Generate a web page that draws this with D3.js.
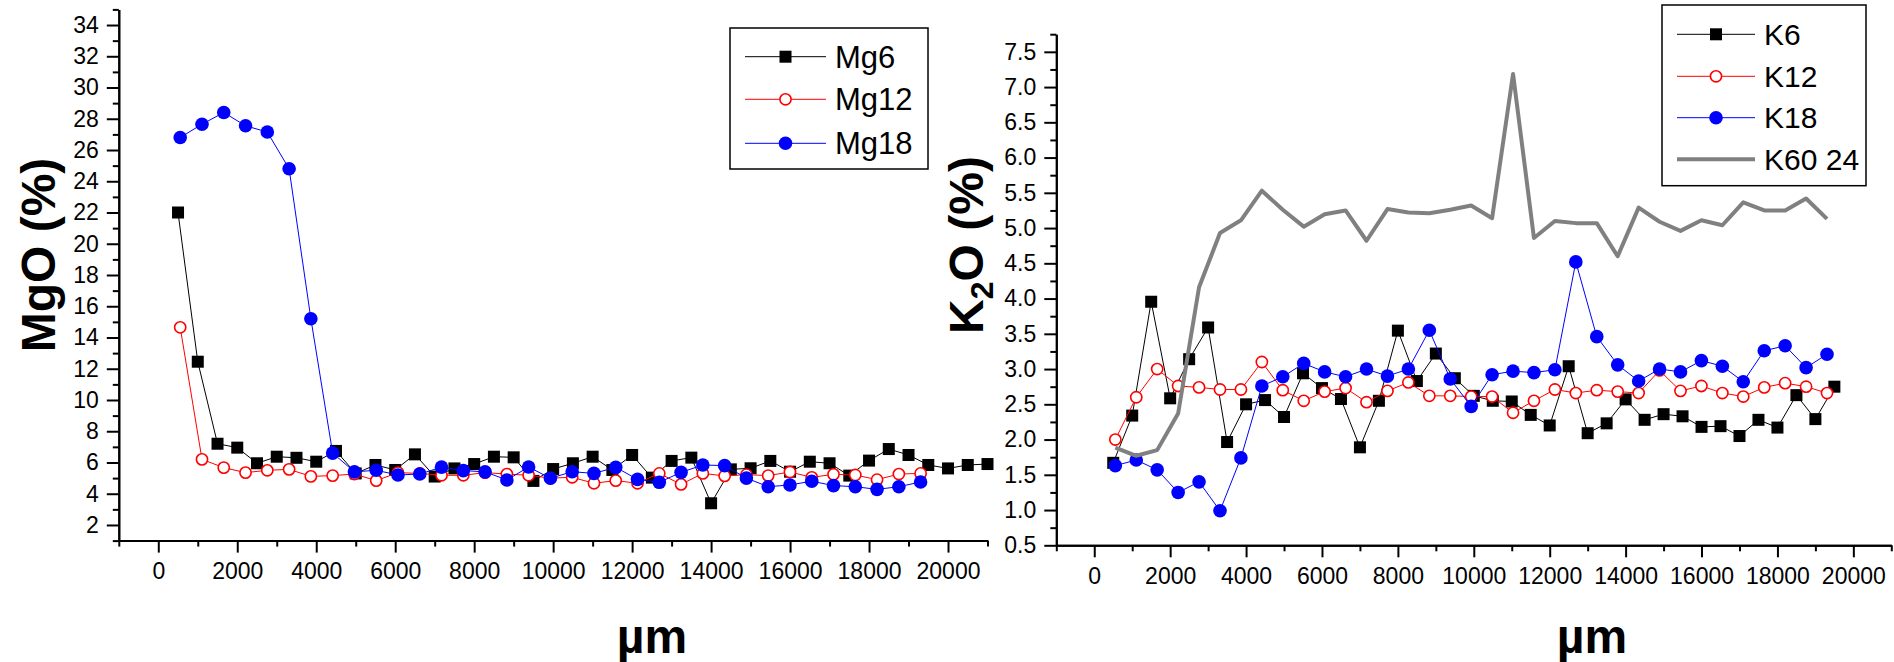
<!DOCTYPE html>
<html>
<head>
<meta charset="utf-8">
<script src="https://cdn.jsdelivr.net/npm/d3@7"></script>
<style>
html,body{margin:0;padding:0;background:#fff;}
svg{display:block;}
</style>
</head>
<body>
<svg id="chart" width="1894" height="662"></svg>
<script>
// ---------- DATA ----------
const xsMg6 = [500,1000,1500,2000,2500,3000,3500,4000,4500,5000,5500,6000,6500,7000,7500,8000,8500,9000,9500,10000,10500,11000,11500,12000,12500,13000,13500,14000,14500,15000,15500,16000,16500,17000,17500,18000,18500,19000,19500,20000,20500,21000];
const mg6 = [22.0,12.45,7.2,6.95,5.95,6.37,6.3,6.05,6.74,5.3,5.84,5.52,6.52,5.1,5.62,5.9,6.37,6.33,4.82,5.58,5.95,6.37,5.52,6.48,5.03,6.1,6.31,3.39,5.56,5.63,6.1,5.41,6.05,5.95,5.16,6.12,6.86,6.48,5.84,5.62,5.84,5.9];
const xs35 = [555,1107,1658,2210,2761,3313,3864,4416,4967,5519,6070,6622,7173,7725,8276,8828,9379,9931,10482,11034,11585,12137,12688,13240,13791,14343,14894,15446,15997,16549,17100,17652,18203,18755,19306];
const mg12 = [14.65,6.2,5.67,5.35,5.5,5.56,5.11,5.16,5.26,4.84,5.35,5.3,5.18,5.18,5.35,5.26,5.18,5.0,5.05,4.67,4.84,4.67,5.3,4.6,5.3,5.14,5.22,5.16,5.39,5.05,5.24,5.2,4.9,5.26,5.3];
const mg18 = [26.8,27.65,28.4,27.55,27.15,24.8,15.2,6.6,5.4,5.5,5.2,5.26,5.7,5.48,5.4,4.88,5.71,4.99,5.41,5.3,5.69,4.92,4.73,5.37,5.84,5.8,5.0,4.45,4.56,4.8,4.52,4.45,4.28,4.45,4.75];

const xsK6 = [500,1000,1500,2000,2500,3000,3500,4000,4500,5000,5500,6000,6500,7000,7500,8000,8500,9000,9500,10000,10500,11000,11500,12000,12500,13000,13500,14000,14500,15000,15500,16000,16500,17000,17500,18000,18500,19000,19500];
const k6 = [1.67,2.34,3.955,2.585,3.14,3.59,1.965,2.5,2.56,2.32,2.94,2.73,2.575,1.89,2.55,3.545,2.83,3.22,2.87,2.62,2.55,2.54,2.35,2.2,3.04,2.09,2.23,2.57,2.28,2.36,2.33,2.18,2.19,2.05,2.28,2.17,2.63,2.29,2.75];
const k12 = [2.0,2.6,3.0,2.76,2.74,2.71,2.71,3.1,2.7,2.55,2.68,2.73,2.53,2.69,2.81,2.62,2.62,2.61,2.61,2.38,2.55,2.71,2.66,2.7,2.68,2.66,2.98,2.69,2.76,2.66,2.61,2.74,2.8,2.75,2.66];
const k18 = [1.63,1.71,1.57,1.25,1.4,0.99,1.74,2.76,2.89,3.08,2.96,2.89,3.0,2.9,3.0,3.55,2.86,2.47,2.92,2.97,2.95,2.99,4.52,3.46,3.06,2.83,3.0,2.96,3.12,3.04,2.82,3.26,3.33,3.02,3.21];
const k6024 = [1.885,1.77,1.85,2.37,4.16,4.93,5.11,5.53,5.26,5.02,5.195,5.25,4.82,5.27,5.22,5.21,5.26,5.32,5.14,7.185,4.86,5.1,5.07,5.07,4.6,5.29,5.09,4.96,5.11,5.04,5.365,5.25,5.25,5.42,5.13];

const xMajorTicks = [0,2000,4000,6000,8000,10000,12000,14000,16000,18000,20000];
const xMinorTicks = [-1000,1000,3000,5000,7000,9000,11000,13000,15000,17000,19000,21000];
const mgMajorTicks = [2,4,6,8,10,12,14,16,18,20,22,24,26,28,30,32,34];
const mgMinorTicks = [1,3,5,7,9,11,13,15,17,19,21,23,25,27,29,31,33,35];
const kMajorTicks = [0.5,1.0,1.5,2.0,2.5,3.0,3.5,4.0,4.5,5.0,5.5,6.0,6.5,7.0,7.5];
const kMinorTicks = [0.75,1.25,1.75,2.25,2.75,3.25,3.75,4.25,4.75,5.25,5.75,6.25,6.75,7.25,7.75];

const mgLegend = ["Mg6","Mg12","Mg18"];
const kLegend = ["K6","K12","K18","K60 24"];

// ---------- DRAW ----------
const FONT = "'Liberation Sans', Arial, Helvetica, sans-serif";
const svg = d3.select("#chart");

function styleAxis(g){
  g.select(".domain").attr("stroke","#000").attr("stroke-width",2);
  g.selectAll(".tick line").attr("stroke","#000").attr("stroke-width",2);
  g.selectAll(".tick text").attr("font-family",FONT).attr("font-size",23).attr("fill","#000");
}

function panel(opts){
  const x = d3.scaleLinear().domain([-1000,21000]).range(opts.xr);
  const y = d3.scaleLinear().domain(opts.yd).range(opts.yr);
  const g = svg.append("g");

  // minor ticks
  g.append("g").attr("transform",`translate(0,${opts.yr[0]})`)
    .call(d3.axisBottom(x).tickValues(xMinorTicks).tickSize(6).tickSizeOuter(0).tickFormat(""))
    .call(styleAxis);
  g.append("g").attr("transform",`translate(${opts.xr[0]},0)`)
    .call(d3.axisLeft(y).tickValues(opts.yMinor).tickSize(6).tickSizeOuter(0).tickFormat(""))
    .call(styleAxis);
  // major ticks
  g.append("g").attr("transform",`translate(0,${opts.yr[0]})`)
    .call(d3.axisBottom(x).tickValues(xMajorTicks).tickSize(12).tickSizeOuter(0).tickPadding(10).tickFormat(d3.format("d")))
    .call(styleAxis);
  g.append("g").attr("transform",`translate(${opts.xr[0]},0)`)
    .call(d3.axisLeft(y).tickValues(opts.yMajor).tickSize(12).tickSizeOuter(0).tickPadding(8).tickFormat(opts.yFmt))
    .call(styleAxis);

  const line = d3.line().x(d=>x(d[0])).y(d=>y(d[1]));
  opts.series.forEach(s=>{
    const pts = s.xs.map((v,i)=>[v,s.ys[i]]);
    g.append("path").datum(pts).attr("d",line)
      .attr("fill","none").attr("stroke",s.color).attr("stroke-width",s.lw||1)
      .attr("stroke-linejoin","round");
    if(s.marker==="square"){
      g.selectAll(null).data(pts).enter().append("rect")
        .attr("x",d=>x(d[0])-6).attr("y",d=>y(d[1])-6).attr("width",12).attr("height",12)
        .attr("fill","#000");
    } else if(s.marker==="open"){
      g.selectAll(null).data(pts).enter().append("circle")
        .attr("cx",d=>x(d[0])).attr("cy",d=>y(d[1])).attr("r",5.6)
        .attr("fill","#fff").attr("stroke",s.color).attr("stroke-width",1.6);
    } else if(s.marker==="filled"){
      g.selectAll(null).data(pts).enter().append("circle")
        .attr("cx",d=>x(d[0])).attr("cy",d=>y(d[1])).attr("r",6.8)
        .attr("fill",s.color);
    }
  });

  // legend
  const L = opts.legend;
  g.append("rect").attr("x",L.x0).attr("y",L.y0).attr("width",L.x1-L.x0).attr("height",L.y1-L.y0)
    .attr("fill","#fff").attr("stroke","#000").attr("stroke-width",1.5);
  opts.series.forEach((s,i)=>{
    const ry = L.rows[i];
    g.append("line").attr("x1",L.lx0).attr("x2",L.lx1).attr("y1",ry).attr("y2",ry)
      .attr("stroke",s.color).attr("stroke-width",s.lw||1);
    const mx = (L.lx0+L.lx1)/2;
    if(s.marker==="square"){
      g.append("rect").attr("x",mx-6).attr("y",ry-6).attr("width",12).attr("height",12).attr("fill","#000");
    } else if(s.marker==="open"){
      g.append("circle").attr("cx",mx).attr("cy",ry).attr("r",5.6).attr("fill","#fff").attr("stroke",s.color).attr("stroke-width",1.6);
    } else if(s.marker==="filled"){
      g.append("circle").attr("cx",mx).attr("cy",ry).attr("r",6.8).attr("fill",s.color);
    }
    g.append("text").attr("x",L.tx).attr("y",ry+L.dy).text(opts.names[i])
      .attr("font-family",FONT).attr("font-size",L.fs).attr("fill","#000");
  });

  // x label
  g.append("text").attr("x",opts.xlab[0]).attr("y",opts.xlab[1]).attr("text-anchor","middle")
    .attr("font-family",FONT).attr("font-weight","bold").attr("font-size",48).text("µm");
  return g;
}

panel({
  xr:[118.8,987.5], yd:[1,35], yr:[540.6,9.4],
  yMajor:mgMajorTicks, yMinor:mgMinorTicks, yFmt:d3.format("d"),
  names:mgLegend,
  series:[
    {xs:xsMg6, ys:mg6, color:"#000000", marker:"square"},
    {xs:xs35, ys:mg12, color:"#ff0000", marker:"open"},
    {xs:xs35, ys:mg18, color:"#0000ff", marker:"filled"}
  ],
  legend:{x0:730,y0:28,x1:928,y1:169,rows:[56.7,99.3,143.3],lx0:745,lx1:826,tx:835,dy:11,fs:31},
  xlab:[652,653]
});

panel({
  xr:[1056.3,1891.3], yd:[0.5,7.75], yr:[545.3,34.2],
  yMajor:kMajorTicks, yMinor:kMinorTicks, yFmt:d3.format(".1f"),
  names:kLegend,
  series:[
    {xs:xsK6, ys:k6, color:"#000000", marker:"square"},
    {xs:xs35, ys:k12, color:"#ff0000", marker:"open"},
    {xs:xs35, ys:k18, color:"#0000ff", marker:"filled"},
    {xs:xs35, ys:k6024, color:"#808080", marker:"none", lw:4}
  ],
  legend:{x0:1662,y0:5,x1:1866,y1:185.7,rows:[34.3,76.3,117.7,159.3],lx0:1677,lx1:1755,tx:1764,dy:10.5,fs:30},
  xlab:[1592,653]
});

// y labels
svg.append("text").attr("transform","translate(55,255) rotate(-90)").attr("text-anchor","middle")
  .attr("font-family",FONT).attr("font-weight","bold").attr("font-size",48).text("MgO (%)");
const kl = svg.append("text").attr("transform","translate(983,245) rotate(-90)").attr("text-anchor","middle")
  .attr("font-family",FONT).attr("font-weight","bold").attr("font-size",48);
kl.append("tspan").text("K");
kl.append("tspan").attr("dy",10).attr("font-size",32).text("2");
kl.append("tspan").attr("dy",-10).text("O (%)");
</script>
</body>
</html>
